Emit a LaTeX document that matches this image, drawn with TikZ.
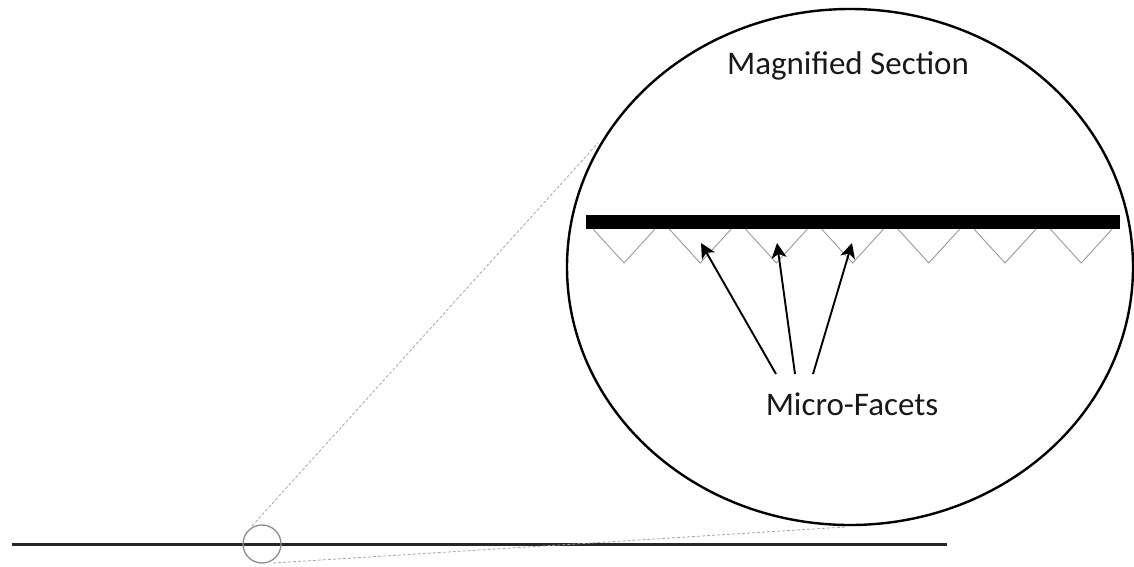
\documentclass[tikz,border=0pt]{standalone}
\usepackage{fontspec}
\setmainfont{Carlito}
\usetikzlibrary{arrows.meta,shapes.geometric}
\tikzset{
  ground/.style={line width=3pt, black!85},
  lens/.style={line width=1.3pt, black!45},
  guide/.style={line width=0.8pt, black!35, dash pattern=on 3pt off 2pt},
  bigview/.style={line width=2.4pt, black},
  facet/.style={line width=0.9pt, black!40},
  pointer/.style={line width=1.9pt, black, -{Stealth[length=15pt,width=15pt,inset=4pt]}},
  lbl/.style={font=\fontsize{33}{40}\selectfont, inner sep=0pt, text=black!90, anchor=base}
}
\begin{document}
\begin{tikzpicture}[x=1pt,y=-1pt]
\useasboundingbox (0,0) rectangle (1134,566);
% ground line and small lens
\draw[ground] (12,544) coordinate (g1) -- (947,544) coordinate (g2);
\node[draw, lens, circle, minimum size=38pt, inner sep=0pt] (lens) at (262,544) {};
% guide lines
\coordinate (u1) at (252,526);
\coordinate (u2) at (598,143);
\coordinate (l1) at (273,563);
\coordinate (l2) at (845,527);
\draw[guide] (u1) -- (u2);
\draw[guide] (l1) -- (l2);
% magnified ellipse
\node[draw, bigview, ellipse, minimum width=566pt, minimum height=516pt, inner sep=0pt] (view) at (850,267) {};
% bar
\fill[black] (586,215) rectangle (1120,229);
% facets
\foreach \i in {0,...,6} {
  \pgfmathsetmacro{\ax}{624+76.2*\i}
  \draw[facet] (\ax-31,229) -- (\ax,263) -- (\ax+31,229);
}
% labels
\node[lbl] (title) at (848,74) {Magnified Section};
\node[lbl] (mf) at (852,415) {Micro-Facets};
% arrows
\coordinate (t1) at (776,374);
\coordinate (t2) at (795,374);
\coordinate (t3) at (813,374);
\coordinate (h1) at (701,243);
\coordinate (h2) at (777,243);
\coordinate (h3) at (852,243);
\draw[pointer] (t1) -- (h1);
\draw[pointer] (t2) -- (h2);
\draw[pointer] (t3) -- (h3);
\end{tikzpicture}
\end{document}
